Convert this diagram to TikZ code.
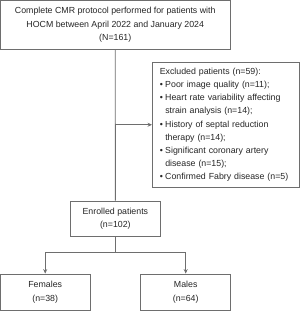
\documentclass[tikz,border=0pt]{standalone}
\usepackage{fontspec}
\setmainfont{Liberation Sans}
\usetikzlibrary{arrows.meta}
\definecolor{linegray}{HTML}{6E6E6E}
\definecolor{textgray}{HTML}{262626}
\newcommand\bulitem[1]{\mbox{\makebox[5.5pt][l]{•}#1}}
\newcommand\bulcont[1]{\mbox{\hspace*{5.5pt}#1}}
\begin{document}
\begin{tikzpicture}[x=1pt,y=-1pt,
  box/.style={draw=linegray, line width=0.9pt, fill=white, inner sep=0pt, align=center,
    font=\fontsize{8.8}{13.2}\selectfont, text=textgray},
  conn/.style={draw=linegray, line width=0.9pt},
  arr/.style={conn, -{Stealth[length=4.5pt,width=4pt]}}]
\useasboundingbox (0,0) rectangle (300,311);
\node[box, minimum width=229.5pt, minimum height=48.5pt] (top) at (115.25,24.75)
  {Complete CMR protocol performed for patients with\\HOCM between April 2022 and January 2024\\(N=161)};
\node[box, minimum width=146.5pt, minimum height=124.5pt, align=left, text width=132pt, inner xsep=7.25pt] (excl) at (225.75,124.75)
  {\mbox{Excluded patients (n=59):}\\
   \bulitem{Poor image quality (n=11);}\\
   \bulitem{Heart rate variability affecting}\\
   \bulcont{strain analysis (n=14);}\\
   \bulitem{History of septal reduction}\\
   \bulcont{therapy (n=14);}\\
   \bulitem{Significant coronary artery}\\
   \bulcont{disease (n=15);}\\
   \bulitem{Confirmed Fabry disease (n=5)}};
\node[box, minimum width=89.5pt, minimum height=35.8pt] (enr) at (115.35,218.9)
  {Enrolled patients\\(n=102)};
\node[box, minimum width=89.5pt, minimum height=36.5pt] (fem) at (45.2,292.3)
  {Females\\(n=38)};
\node[box, minimum width=90pt, minimum height=36.5pt] (mal) at (185.7,292.3)
  {Males\\(n=64)};
\draw[conn] (top.south) -- (enr.north);
\coordinate (mid) at (top.south |- excl.west);
\draw[arr] (mid) -- (excl.west);
\path (enr.south) ++(0,15.5) coordinate (br);
\draw[conn] (enr.south) -- (br);
\draw[arr] (br) -| (fem.north);
\draw[arr] (br) -| (mal.north);
\end{tikzpicture}
\end{document}
